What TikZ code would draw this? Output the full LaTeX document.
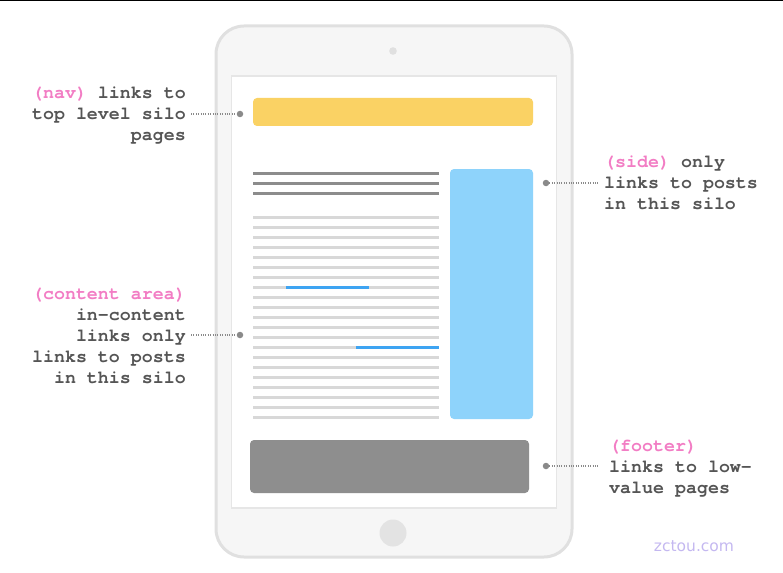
\documentclass[tikz,border=0pt]{standalone}
\usepackage{fontspec}
\setmonofont{texgyrecursor}[Extension=.otf, UprightFont=*-regular, BoldFont=*-bold]
\setsansfont{DejaVu Sans}
\definecolor{txtgray}{HTML}{555555}
\definecolor{pinkc}{HTML}{F27DC4}
\definecolor{dotgray}{HTML}{8A8A8A}
\definecolor{bezel}{HTML}{F6F6F6}
\definecolor{bezelline}{HTML}{E0E0E0}
\definecolor{screenline}{HTML}{E6E6E6}
\definecolor{homegray}{HTML}{E3E3E3}
\definecolor{navyellow}{HTML}{FAD264}
\definecolor{headgray}{HTML}{8C8C8C}
\definecolor{bodygray}{HTML}{D8D8D8}
\definecolor{linkblue}{HTML}{3EA4F2}
\definecolor{sideblue}{HTML}{8ED3FB}
\definecolor{footgray}{HTML}{8E8E8E}
\definecolor{wmark}{HTML}{C4B8F0}
\begin{document}
\begin{tikzpicture}[x=1pt,y=-1pt,
  lbl/.style={font=\ttfamily\bfseries\fontsize{18.3}{21}\selectfont, text=txtgray, inner sep=0pt},
  pin/.style={circle, fill=dotgray, inner sep=0pt, minimum size=6.5pt},
  leader/.style={draw=dotgray, line width=1.3pt, dash pattern=on 1pt off 1.4pt},
  headline/.style={draw=headgray, line width=3pt},
  bodyline/.style={draw=bodygray, line width=3pt},
  linkline/.style={draw=linkblue, line width=3pt},
  block/.style={rounded corners=4pt}]
\useasboundingbox (0,0) rectangle (783,572);
% thin rule along the top edge
\fill[black] (0,0) rectangle (783,1.5);

% tablet body, screen, camera and home button
\draw[draw=bezelline, line width=3pt, fill=bezel, rounded corners=28pt] (216,26) rectangle (572,557);
\draw[draw=screenline, line width=1.5pt, fill=white] (231.5,76) rectangle (556.5,508);
\fill[bezelline] (393,51) circle (3.8);
\fill[homegray] (393,533) circle (13.5);

% page blocks
\fill[navyellow, block] (253,98) rectangle (533,126);
\fill[sideblue, block] (450,169) rectangle (533,419);
\fill[footgray, block] (250,440) rectangle (529,493);

% heading lines
\foreach \y in {173,183,193} \draw[headline] (253,\y) -- (439,\y);
% body text lines
\foreach \i in {0,...,20} \draw[bodyline] (253,217+10*\i) -- (439,217+10*\i);
% in-content links
\draw[linkline] (286,287) -- (369,287);
\draw[linkline] (356,347) -- (439,347);

% annotations
\node[lbl, align=right, anchor=east] (navlbl) at (186,115.5)
  {\strut\textcolor{pinkc}{(nav)} links to\\\strut top level silo\\\strut pages};
\node[pin] (navdot) at (240,114) {};
\draw[leader] ([xshift=5pt]navlbl.east |- navdot) -- (navdot);

\node[lbl, align=right, anchor=east] (contentlbl) at (186,337)
  {\strut\textcolor{pinkc}{(content area)}\\\strut in-content\\\strut links only\\\strut links to posts\\\strut in this silo};
\node[pin] (contentdot) at (240,335) {};
\draw[leader] ([xshift=5pt]contentlbl.east |- contentdot) -- (contentdot);

\node[lbl, align=left, anchor=west] (sidelbl) at (604,184.5)
  {\strut\textcolor{pinkc}{(side)} only\\\strut links to posts\\\strut in this silo};
\node[pin] (sidedot) at (546,183) {};
\draw[leader] (sidedot) -- ([xshift=-6pt]sidelbl.west |- sidedot);

\node[lbl, align=left, anchor=west] (footlbl) at (609,468)
  {\strut\textcolor{pinkc}{(footer)}\\\strut links to low-\\\strut value pages};
\node[pin] (footdot) at (546,466) {};
\draw[leader] (footdot) -- ([xshift=-11pt]footlbl.west |- footdot);

% site mark
\node[font=\sffamily\fontsize{15.5}{18}\selectfont, text=wmark, inner sep=0pt] (mark) at (694,546) {zctou.com};
\end{tikzpicture}
\end{document}
